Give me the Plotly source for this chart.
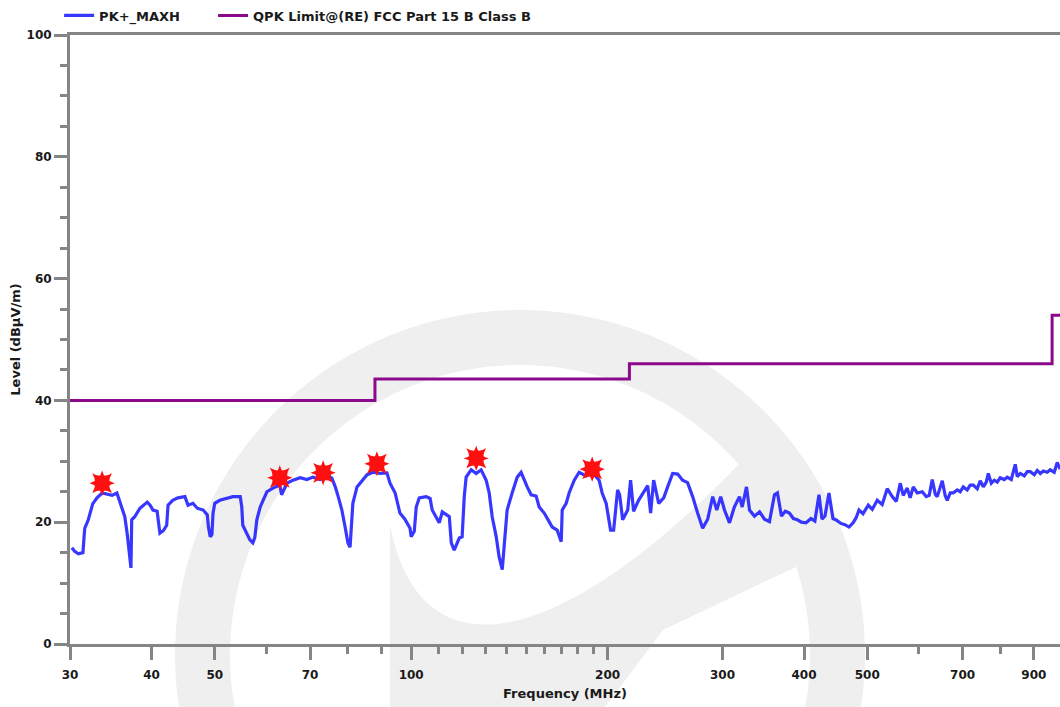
import math
import plotly.graph_objects as go

# ---------------- data ----------------
freq_mhz = [
    30.2, 30.5, 30.9, 31.4, 31.6, 32.0, 32.5, 33.0, 33.6, 34.2, 34.8, 35.4, 35.8, 36.2, 36.4, 36.7,
    36.8, 37.0, 37.2, 37.3, 37.7, 38.4, 39.4, 39.8, 40.2, 40.8, 41.0, 41.2, 41.7, 42.2, 42.4, 43.1,
    43.9, 45.0, 45.5, 46.3, 47.0, 48.0, 48.7, 48.9, 49.2, 49.5, 49.7, 50.0, 50.9, 52.2, 53.3, 54.7,
    55.0, 55.2, 56.0, 56.6, 57.2, 57.6, 58.0, 58.7, 59.3, 60.1, 61.4, 62.9, 63.3, 64.5, 65.9, 67.6,
    69.2, 70.7, 72.5, 74.3, 75.6, 76.5, 77.3, 78.3, 79.2, 80.0, 80.6, 81.1, 81.4, 82.6, 84.1, 85.6,
    87.4, 89.6, 91.8, 92.8, 94.5, 96.1, 97.8, 99.6, 100.0, 101.1, 101.8, 102.9, 105.4, 106.9, 107.7,
    110.4, 111.6, 114.4, 115.2, 116.4, 118.5, 119.7, 120.6, 121.4, 123.6, 125.8, 128.0, 130.3, 131.7,
    133.1, 135.0, 136.4, 137.9, 138.8, 140.3, 142.8, 145.4, 147.4, 149.0, 150.6, 152.7, 155.4, 157.1,
    159.9, 162.7, 164.5, 167.4, 169.8, 170.4, 172.8, 174.6, 177.8, 180.9, 185.4, 189.4, 194.1, 196.2,
    199.0, 202.1, 204.3, 207.2, 208.7, 210.9, 214.7, 216.9, 219.2, 223.1, 227.1, 230.4, 232.8, 235.3,
    239.5, 243.8, 247.2, 251.6, 256.1, 260.6, 265.2, 270.0, 274.8, 279.7, 284.7, 289.8, 294.0, 298.1,
    302.1, 307.5, 312.8, 318.5, 321.6, 326.5, 330.0, 335.8, 341.9, 347.9, 354.1, 360.4, 364.2, 369.4,
    374.5, 379.9, 385.2, 390.7, 396.3, 402.8, 410.0, 415.6, 421.7, 426.2, 430.7, 436.8, 443.0, 449.2,
    455.6, 462.1, 468.9, 475.6, 480.6, 485.6, 492.6, 501.8, 508.9, 517.9, 527.1, 536.5, 546.1, 553.9,
    561.7, 567.7, 575.7, 581.8, 588.1, 596.4, 607.1, 615.7, 622.2, 628.9, 635.6, 640.1, 651.5, 658.5,
    663.1, 670.1, 677.3, 686.8, 694.1, 701.6, 711.5, 719.1, 726.8, 737.1, 744.9, 753.0, 761.0, 766.4,
    774.6, 782.8, 791.0, 799.4, 810.8, 819.5, 831.1, 842.9, 848.9, 858.0, 870.2, 879.5, 888.9, 901.5,
    911.0, 920.7, 930.5, 943.7, 953.6, 967.2, 977.4, 987.7,
]
level_dbuv = [
    15.8, 15.2, 14.8, 15.0, 19.0, 20.4, 23.0, 24.0, 24.8, 24.6, 24.4, 24.8, 23.3, 22.0, 20.9, 18.2,
    17.1, 14.9, 12.5, 20.4, 20.9, 22.3, 23.3, 22.8, 22.0, 21.8, 20.1, 18.2, 18.6, 19.5, 22.8, 23.6,
    24.0, 24.2, 22.8, 23.1, 22.3, 22.0, 21.2, 19.2, 17.6, 18.0, 21.5, 23.1, 23.6, 24.0, 24.2, 24.2,
    22.5, 19.5, 18.2, 17.1, 16.6, 17.5, 20.4, 22.5, 23.6, 25.0, 25.6, 26.1, 24.5, 26.4, 26.9, 27.3,
    27.0, 27.4, 27.0, 27.8, 27.2, 25.8, 24.2, 22.0, 19.2, 16.6, 15.9, 20.0, 23.1, 25.8, 26.9, 27.8,
    28.2, 28.0, 28.1, 26.4, 24.8, 21.5, 20.5, 19.0, 17.6, 18.5, 22.5, 24.0, 24.2, 23.9, 22.0,
    19.9, 21.7, 20.9, 16.6, 15.4, 17.4, 17.6, 24.2, 27.4, 28.6, 28.0, 28.6, 26.9, 24.8,
    20.9, 17.6, 14.3, 12.2, 16.6, 22.0, 24.8, 27.4, 28.2, 26.9, 25.8, 24.5, 24.3, 22.5,
    21.5, 20.1, 19.2, 18.7, 16.8, 22.0, 23.1, 24.8, 26.9, 28.2, 27.6, 28.2, 26.9, 24.8,
    23.1, 18.7, 18.7, 25.3, 24.5, 20.4, 22.0, 26.9, 21.8, 23.6, 24.8, 26.0, 21.5, 26.9,
    23.1, 24.0, 25.8, 28.0, 27.9, 26.9, 26.5, 24.2, 21.5, 19.0, 20.5, 24.2, 22.0, 24.2,
    22.0, 19.9, 22.5, 24.2, 22.5, 25.8, 22.0, 21.0, 21.7, 20.5, 20.1, 24.5, 24.8, 21.0,
    21.8, 21.5, 20.6, 20.4, 20.0, 19.9, 20.6, 20.2, 24.5, 20.5, 21.0, 24.8, 20.6, 20.3,
    19.8, 19.6, 19.2, 19.9, 20.7, 22.0, 21.4, 22.8, 22.1, 23.6, 22.9, 25.5, 24.2, 23.4,
    26.4, 24.4, 25.6, 24.0, 25.8, 24.8, 25.0, 24.2, 24.4, 27.0, 24.6, 24.2, 26.8, 24.3,
    23.6, 24.8, 24.8, 25.3, 25.0, 25.8, 25.3, 26.1, 26.1, 25.5, 26.8, 25.8, 26.6, 28.0,
    26.4, 26.9, 26.6, 27.3, 27.0, 27.4, 27.0, 29.5, 27.5, 28.0, 27.6, 28.3, 28.3, 27.8,
    28.5, 28.0, 28.4, 28.2, 28.6, 28.2, 29.8, 28.7,
]

limit_freq = [30, 88, 88, 216, 216, 960, 960, 1000]
limit_level = [40, 40, 43.5, 43.5, 46, 46, 54, 54]

peak_freq = [33.6, 62.9, 73.3, 88.6, 125.8, 189.4]
peak_level = [26.4, 27.3, 28.1, 29.6, 30.5, 28.7]

x_tickvals = [30, 40, 50, 70, 100, 200, 300, 400, 500, 700, 900]
x_ticktext = ["30", "40", "50", "70", "100", "200", "300", "400", "500", "700", "900"]
x_minorvals = [60, 80, 90, 110, 120, 130, 140, 150, 160, 170, 180, 190, 600, 800]
y_tickvals = [0, 20, 40, 60, 80, 100]

# ---------------- layout geometry ----------------
W, H = 1060, 707
ML, MR, MT, MB = 70, 0, 35, 63
PW, PH = W - ML - MR, H - MT - MB
DEC_PX = 652.5  # pixels per decade on the frequency axis
x_lo = math.log10(30)
x_hi = x_lo + PW / DEC_PX


def pp(px, py):
    """pixel -> paper coordinates (for the decorative watermark only)"""
    return (px - ML) / PW, (MT + PH - py) / PH


def circle_pts(cx, cy, r, n=180, reverse=False):
    pts = []
    for i in range(n):
        a = 2 * math.pi * i / n
        if reverse:
            a = -a
        pts.append(pp(cx + r * math.cos(a), cy + r * math.sin(a)))
    return pts


def path_from(pts):
    s = "M {:.5f},{:.5f}".format(*pts[0])
    for p in pts[1:]:
        s += " L {:.5f},{:.5f}".format(*p)
    return s + " Z"


ring_path = path_from(circle_pts(520, 655, 345)) + " " + path_from(circle_pts(520, 655, 290, reverse=True))

a = pp(390, 707); b = pp(390, 525); c1 = pp(420, 680); c2 = pp(560, 650); d = pp(740, 463)
e = pp(805, 463); f = pp(817, 557); g = pp(663, 630); h = pp(633, 670); k = pp(605, 707)
slash_path = ("M {:.5f},{:.5f} L {:.5f},{:.5f} C {:.5f},{:.5f} {:.5f},{:.5f} {:.5f},{:.5f} "
              "L {:.5f},{:.5f} L {:.5f},{:.5f} L {:.5f},{:.5f} L {:.5f},{:.5f} L {:.5f},{:.5f} Z").format(
    *a, *b, *c1, *c2, *d, *e, *f, *g, *h, *k)

WM = "#efefef"
FAM = "DejaVu Sans, Noto Sans, sans-serif"

fig = go.Figure()

fig.add_trace(go.Scatter(
    x=freq_mhz, y=level_dbuv, mode="lines", name="PK+_MAXH", legend="legend",
    line=dict(color="rgba(20,20,255,0.85)", width=3.2),
))
fig.add_trace(go.Scatter(
    x=limit_freq, y=limit_level, mode="lines", name="QPK Limit@(RE) FCC Part 15 B Class B",
    legend="legend2",
    line=dict(color="#8B0A8B", width=3),
))
for sym in ["star-square", "star-diamond"]:
    fig.add_trace(go.Scatter(
        x=peak_freq, y=peak_level, mode="markers", showlegend=False,
        marker=dict(symbol=sym, size=18, color="#ff1010", line=dict(width=0)),
    ))

tick_font = dict(family=FAM, size=12, color="#1a1a1a", weight="bold")
title_font = dict(family=FAM, size=13, color="#1a1a1a", weight="bold")
leg_font = dict(family=FAM, size=13, color="#1a1a1a", weight="bold")
AX = "#858585"

fig.update_layout(
    width=W, height=H,
    margin=dict(l=ML, r=MR, t=MT, b=MB, pad=0, autoexpand=False),
    paper_bgcolor="white", plot_bgcolor="rgba(0,0,0,0)",
    font=tick_font,
    showlegend=True,
    legend=dict(orientation="h", x=-0.011, xanchor="left", y=1.032, yanchor="middle",
                font=leg_font, bgcolor="rgba(0,0,0,0)", itemwidth=30),
    legend2=dict(orientation="h", x=0.1445, xanchor="left", y=1.032, yanchor="middle",
                 font=leg_font, bgcolor="rgba(0,0,0,0)", itemwidth=30),
    shapes=[
        dict(type="path", xref="paper", yref="paper", path=ring_path, fillcolor=WM,
             line=dict(width=0), layer="below"),
        dict(type="path", xref="paper", yref="paper", path=slash_path, fillcolor=WM,
             line=dict(width=0), layer="below"),
    ],
)

fig.update_xaxes(
    type="log", range=[x_lo, x_hi], automargin=False,
    tickmode="array", tickvals=x_tickvals, ticktext=x_ticktext,
    ticks="outside", ticklen=13, tickwidth=3, tickcolor=AX, ticklabelstandoff=5,
    showline=True, linecolor=AX, linewidth=3, mirror=True,
    showgrid=False, zeroline=False,
    minor=dict(tickmode="array", tickvals=x_minorvals, ticks="outside", ticklen=7,
               tickwidth=3, tickcolor=AX, showgrid=False),
    title=dict(text="Frequency (MHz)", standoff=8, font=title_font),
    tickfont=tick_font,
)
fig.update_yaxes(
    range=[0, 100], automargin=False,
    tickmode="array", tickvals=y_tickvals,
    ticks="outside", ticklen=13, tickwidth=3, tickcolor=AX,
    showline=True, linecolor=AX, linewidth=3,
    showgrid=False, zeroline=False,
    minor=dict(dtick=5, ticks="outside", ticklen=7, tickwidth=3, tickcolor=AX, showgrid=False),
    title=dict(text="Level (dBµV/m)", standoff=3, font=title_font),
    tickfont=tick_font,
)

fig.write_html("out.html", config={"displayModeBar": False},
               post_script="document.body.style.margin='0';")
